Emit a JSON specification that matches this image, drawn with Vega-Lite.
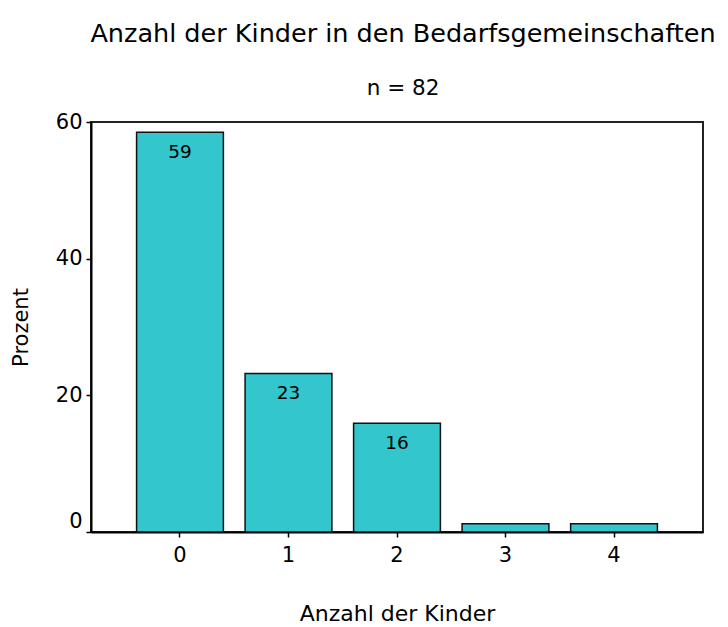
{
  "$schema": "https://vega.github.io/schema/vega-lite/v6.json",
  "autosize": "none",
  "padding": {"left": 91, "top": 122, "right": 25, "bottom": 95},
  "width": 612,
  "height": 410,
  "background": "white",
  "config": {
    "font": "DejaVu Sans",
    "view": {"stroke": "#222222", "strokeWidth": 2}
  },
  "title": {
    "text": "Anzahl der Kinder in den Bedarfsgemeinschaften",
    "subtitle": "n = 82",
    "anchor": "middle",
    "frame": "group",
    "dx": 6,
    "fontSize": 25.5,
    "fontWeight": "normal",
    "color": "#000000",
    "subtitleFontSize": 21.5,
    "subtitleColor": "#000000",
    "subtitlePadding": 30,
    "offset": 12
  },
  "data": {
    "values": [
      {"kinder": "0", "prozent": 58.5, "label": "59"},
      {"kinder": "1", "prozent": 23.2, "label": "23"},
      {"kinder": "2", "prozent": 15.9, "label": "16"},
      {"kinder": "3", "prozent": 1.2, "label": ""},
      {"kinder": "4", "prozent": 1.2, "label": ""}
    ]
  },
  "encoding": {
    "x": {
      "field": "kinder",
      "type": "ordinal",
      "sort": null,
      "scale": {"paddingInner": 0.2, "paddingOuter": 0.42},
      "axis": {
        "title": "Anzahl der Kinder",
        "titleFontSize": 22,
        "titleFontWeight": "normal",
        "titleColor": "#000000",
        "titlePadding": 38,
        "labelAngle": 0,
        "labelFontSize": 21,
        "labelColor": "#000000",
        "labelPadding": 7,
        "domainColor": "#000000",
        "domainWidth": 2,
        "tickColor": "#000000",
        "tickWidth": 1.5,
        "tickSize": 5
      }
    },
    "y": {
      "field": "prozent",
      "type": "quantitative",
      "scale": {"domain": [0, 60], "nice": false},
      "axis": {
        "title": "Prozent",
        "values": [0, 20, 40, 60],
        "titleFontSize": 21,
        "titleFontWeight": "normal",
        "titleColor": "#000000",
        "titlePadding": 24,
        "labelFontSize": 21,
        "labelColor": "#000000",
        "labelPadding": 4,
        "labelOffset": {"condition": {"test": "datum.value == 0", "value": -11}, "value": 0},
        "grid": false,
        "domainColor": "#000000",
        "domainWidth": 2,
        "tickColor": "#000000",
        "tickWidth": 1.5,
        "tickSize": 5
      }
    }
  },
  "layer": [
    {
      "mark": {"type": "bar", "fill": "#33C6CC", "stroke": "#111111", "strokeWidth": 1.5}
    },
    {
      "mark": {"type": "text", "baseline": "middle", "dy": 20, "fontSize": 18.5, "color": "#000000"},
      "encoding": {"text": {"field": "label"}}
    }
  ]
}
